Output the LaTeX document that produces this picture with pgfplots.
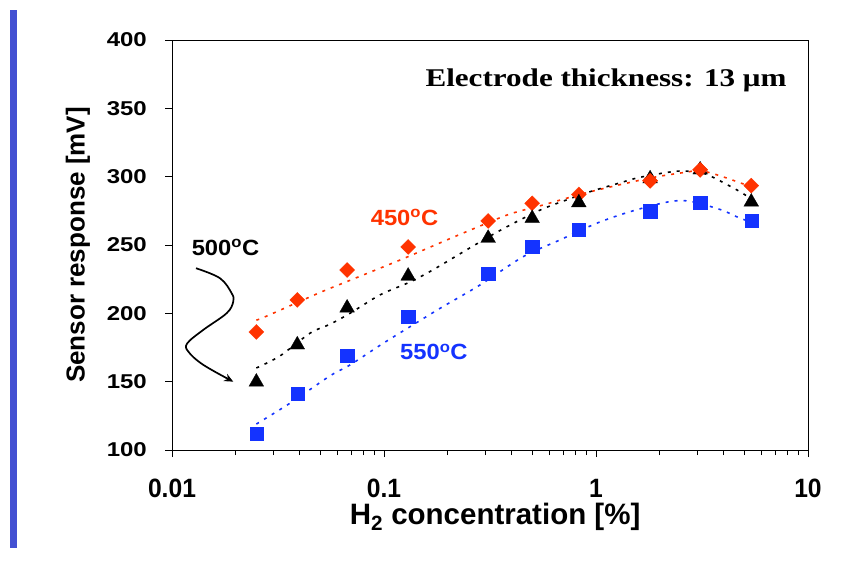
\documentclass[border=0pt]{standalone}
\usepackage{fontspec}
\setmainfont{Liberation Sans}
\newfontfamily\titlefont{Liberation Serif}[FakeStretch=1.22]
\newfontfamily\ysans{Liberation Sans}[FakeStretch=1.2]
\newfontfamily\xsans{Liberation Sans}[FakeStretch=0.93]
\newfontfamily\annsans{Liberation Sans}[FakeStretch=1.08]
\usepackage{pgfplots}
\pgfplotsset{compat=1.18}
\usetikzlibrary{arrows.meta}
\definecolor{cred}{RGB}{255,51,0}
\definecolor{cblue}{RGB}{20,51,255}
\definecolor{barblue}{RGB}{67,80,210}
\newcommand{\ytickfont}{\ysans\fontsize{20bp}{22bp}\selectfont\bfseries}
\newcommand{\xtickfont}{\xsans\fontsize{26.5bp}{28bp}\selectfont\bfseries}
\newcommand{\annfont}{\annsans\fontsize{22bp}{24bp}\selectfont\bfseries}
\newcommand{\xlabfont}{\fontsize{29.5bp}{32bp}\selectfont\bfseries}
\newcommand{\ylabfont}{\fontsize{26bp}{28bp}\selectfont\bfseries}
\begin{document}
\begin{tikzpicture}
\useasboundingbox (-172bp,-111bp) rectangle (671bp,450bp);
\fill[barblue] (-162bp,-98bp) rectangle (-155bp,440bp);
\begin{axis}[
  at={(0,0)}, anchor=south west,
  scale only axis, width=636bp, height=410bp,
  xmode=log, xmin=0.01, xmax=10, ymin=100, ymax=400,
  ytick={100,150,200,250,300,350,400},
  xtick={0.01,0.1,1,10}, xticklabels={0.01,0.1,1,10},
  /pgf/number format/assume math mode=true,
  tick align=outside, tick pos=left,
  major tick length=7bp, minor tick length=5bp,
  axis line style={line width=0.8bp},
  every tick/.style={black, line width=0.8bp},
  yticklabel style={font=\ytickfont, anchor=east, inner sep=0pt, xshift=-18bp},
  xticklabel style={font=\xtickfont, anchor=north, inner sep=0pt, yshift=-22bp},
  xlabel={H\textsubscript{2} concentration [\%]},
  ylabel={Sensor response [mV]},
  every axis x label/.style={at={(axis description cs:0.508,-0.163)}, anchor=center, font=\xlabfont, inner sep=0pt},
  every axis y label/.style={at={(axis description cs:-0.1478,0.5)}, rotate=90, anchor=center, font=\ylabfont, inner sep=0pt},
  clip=false,
]
% trend lines
\addplot[cred, line width=1.6bp, dash pattern=on 3bp off 6bp, smooth] coordinates {
(0.025,195) (0.028,198) (0.049,214.7) (0.068,223.7) (0.119,239) (0.198,253.7) (0.279,263.4) (0.393,272.7) (0.564,279.3) (0.70,283.5) (1.0,290) (1.8,299) (2.72,303.5) (3.1,304.5) (3.78,301) (4.69,296) (5.4,292.5)};
\addplot[black, line width=1.6bp, dash pattern=on 3bp off 6bp, smooth] coordinates {
(0.025,160) (0.0323,168.8) (0.0448,185.5) (0.0556,192) (0.0691,200) (0.0958,213.5) (0.133,223) (0.171,232) (0.255,248) (0.366,262) (0.544,275.5) (0.727,283) (0.937,289) (1.3,295.5) (1.61,299.5) (2.4,304) (3.1,303) (3.57,299.5) (4.78,289) (5.4,283.5)};
\addplot[cblue, line width=1.6bp, dash pattern=on 3bp off 6bp, smooth] coordinates {
(0.025,119) (0.036,134.2) (0.0556,154.2) (0.0691,162.2) (0.0992,178.1) (0.133,190.3) (0.184,203.7) (0.284,220.8) (0.454,241.5) (0.676,253.7) (1.007,265.9) (1.45,274.4) (2.15,281.3) (2.72,282.2) (3.85,276) (4.78,269.6) (5.4,267)};
% data
\addplot[only marks, mark=square*, mark size=5.3bp, mark options={rotate=45, fill=cred, draw=cred, line width=0.3bp}] coordinates {
(0.025,186.4) (0.039,209.8) (0.067,231.7) (0.13,248.6) (0.31,267.6) (0.5,280.5) (0.83,287) (1.8,297) (3.1,305) (5.4,293.4)};
\addplot[only marks, mark=triangle*, mark size=8.5bp, mark options={fill=black, draw=black, line width=0.3bp}] coordinates {
(0.025,149.8) (0.039,177) (0.067,204) (0.13,227.3) (0.31,255) (0.5,269.5) (0.83,281) (1.8,298.5) (3.1,305) (5.4,281.5)};
\addplot[only marks, mark=square*, mark size=6.6bp, mark options={fill=cblue, draw=cblue, line width=0.3bp}] coordinates {
(0.025,111.8) (0.039,141) (0.067,168.8) (0.13,197.6) (0.31,229.3) (0.5,248.8) (0.83,261) (1.8,274.7) (3.1,281) (5.4,268)};
% red diamonds on top of triangles where they overlap
\addplot[only marks, mark=square*, mark size=5.3bp, mark options={rotate=45, fill=cred, draw=cred, line width=0.3bp}] coordinates {
(1.8,297) (3.1,305)};
% annotations
\node[font=\annfont, text=cred, anchor=center, inner sep=0pt] at (axis cs:0.125,270.2) {450\textsuperscript{o}C};
\node[font=\annfont, text=black, anchor=center, inner sep=0pt] at (axis cs:0.01788,248.2) {500\textsuperscript{o}C};
\node[font=\annfont, text=cblue, anchor=center, inner sep=0pt] at (axis cs:0.172,171.8) {550\textsuperscript{o}C};
\node[font=\titlefont\fontsize{25.5bp}{28bp}\selectfont\bfseries, anchor=base, inner sep=0pt] at (rel axis cs:0.6824,0.886) {Electrode thickness: 13 μm};
\draw[black, line width=1.7bp, -{Stealth[length=9bp,width=8bp]}] plot[smooth, tension=0.6] coordinates {
(axis cs:0.01298,233.0) (axis cs:0.01684,225.7) (axis cs:0.01912,214.7) (axis cs:0.01946,208.6) (axis cs:0.01811,200.1) (axis cs:0.01405,187.9) (axis cs:0.01181,178.1) (axis cs:0.01194,172) (axis cs:0.01405,162.3) (axis cs:0.01946,150)};
\end{axis}
\end{tikzpicture}
\end{document}
